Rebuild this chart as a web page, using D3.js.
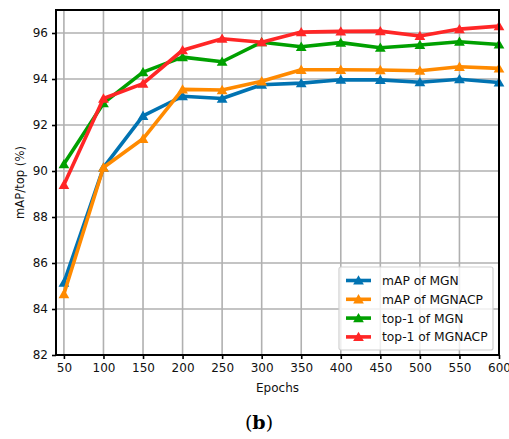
<!DOCTYPE html>
<html>
<head>
<meta charset="utf-8">
<script src="https://cdn.jsdelivr.net/npm/d3@7"></script>
<style>
  body { margin: 0; background: #fff; }
  svg text { font-family: "DejaVu Sans", sans-serif; }
</style>
</head>
<body>
<div id="chart-wrapper"></div>
<script>
// Data
const epochs = [50, 100, 150, 200, 250, 300, 350, 400, 450, 500, 550, 600]
const mapMGN    = [85.15, 90.15, 92.4, 93.25, 93.15, 93.75, 93.82, 93.97, 93.96, 93.86, 93.99, 93.85]
const mapMGNACP = [84.65, 90.15, 91.4, 93.55, 93.52, 93.9, 94.4, 94.4, 94.39, 94.36, 94.53, 94.46]
const top1MGN    = [90.3, 92.95, 94.3, 94.95, 94.75, 95.6, 95.4, 95.58, 95.36, 95.48, 95.62, 95.5]
const top1MGNACP = [89.4, 93.15, 93.8, 95.25, 95.75, 95.6, 96.04, 96.07, 96.08, 95.87, 96.17, 96.3]
const yTicks = [82, 84, 86, 88, 90, 92, 94, 96]
const xTicks = [50, 100, 150, 200, 250, 300, 350, 400, 450, 500, 550, 600]

const series = [
  {name: "mAP of MGN", values: mapMGN, color: "#0173b2"},
  {name: "mAP of MGNACP", values: mapMGNACP, color: "#ff8a00"},
  {name: "top-1 of MGN", values: top1MGN, color: "#00a000"},
  {name: "top-1 of MGNACP", values: top1MGNACP, color: "#ff2626"}
]

const width = 509
const height = 439
const margin = {top: 10, right: 10, bottom: 84, left: 56}

const svg = d3.select("#chart-wrapper")
  .append("svg")
  .attr("width", width)
  .attr("height", height)

const x = d3.scaleLinear().domain([40, 600]).range([margin.left, width - margin.right])
const y = d3.scaleLinear().domain([82, 97]).range([height - margin.bottom, margin.top])

// Grid
const grid = svg.append("g")
grid.selectAll(".vg").data(xTicks).enter().append("line")
  .attr("x1", d => x(d)).attr("x2", d => x(d))
  .attr("y1", y.range()[0]).attr("y2", y.range()[1])
  .attr("stroke", "#b0b0b0").attr("stroke-width", 1.6)
grid.selectAll(".hg").data(yTicks).enter().append("line")
  .attr("x1", x.range()[0]).attr("x2", x.range()[1])
  .attr("y1", d => y(d)).attr("y2", d => y(d))
  .attr("stroke", "#b0b0b0").attr("stroke-width", 1.6)

// Lines + markers
const line = d3.line().x((d, i) => x(epochs[i])).y(d => y(d))
const tri = d3.symbol().type(d3.symbolTriangle).size(50)
series.forEach(s => {
  svg.append("path")
    .datum(s.values)
    .attr("d", line)
    .attr("fill", "none")
    .attr("stroke", s.color)
    .attr("stroke-width", 3.6)
    .attr("stroke-linejoin", "round")
  svg.append("g").selectAll("path").data(s.values).enter().append("path")
    .attr("d", tri)
    .attr("transform", (d, i) => `translate(${x(epochs[i])},${y(d) + 1})`)
    .attr("fill", s.color)
})

// Axes
const xAxis = svg.append("g")
  .attr("transform", `translate(0,${y.range()[0]})`)
  .call(d3.axisBottom(x).tickValues(xTicks).tickSize(4).tickPadding(4).tickSizeOuter(0))
const yAxis = svg.append("g")
  .attr("transform", `translate(${x.range()[0]},0)`)
  .call(d3.axisLeft(y).tickValues(yTicks).tickSize(4).tickPadding(4).tickSizeOuter(0))
;[xAxis, yAxis].forEach(a => {
  a.select(".domain").remove()
  a.selectAll("line").attr("stroke", "#000").attr("stroke-width", 1.6)
  a.selectAll("text").attr("font-size", 12).attr("fill", "#111")
    .attr("font-family", "DejaVu Sans")
})

// Frame
svg.append("rect")
  .attr("x", x.range()[0]).attr("y", y.range()[1])
  .attr("width", x.range()[1] - x.range()[0])
  .attr("height", y.range()[0] - y.range()[1])
  .attr("fill", "none").attr("stroke", "#000").attr("stroke-width", 2)

// Axis titles
svg.append("text")
  .attr("x", (x.range()[0] + x.range()[1]) / 2).attr("y", 392)
  .attr("text-anchor", "middle").attr("font-size", 12).attr("fill", "#111")
  .text("Epochs")
svg.append("text")
  .attr("transform", `translate(24,${(y.range()[0] + y.range()[1]) / 2}) rotate(-90)`)
  .attr("text-anchor", "middle").attr("font-size", 11.6).attr("fill", "#111")
  .text("mAP/top (%)")

// Legend
const lg = svg.append("g").attr("transform", "translate(339,267)")
lg.append("rect")
  .attr("width", 154).attr("height", 83).attr("rx", 2)
  .attr("fill", "rgba(255,255,255,0.8)").attr("stroke", "#d0d0d0").attr("stroke-width", 1.2)
series.forEach((s, i) => {
  const ly = 13.5 + i * 18.8
  lg.append("line").attr("x1", 7).attr("x2", 32).attr("y1", ly).attr("y2", ly)
    .attr("stroke", s.color).attr("stroke-width", 3.6)
  lg.append("path").attr("d", tri).attr("transform", `translate(19.5,${ly + 1})`).attr("fill", s.color)
  lg.append("text").attr("x", 43).attr("y", ly + 4.5)
    .attr("font-size", 12.3).attr("fill", "#111").text(s.name)
})

// Caption
svg.append("text")
  .attr("x", 259).attr("y", 429).attr("text-anchor", "middle")
  .attr("font-family", "DejaVu Serif").attr("font-size", 19)
  .selectAll("tspan").data(["(", "b", ")"]).enter().append("tspan")
  .attr("font-weight", d => d === "b" ? "bold" : "normal")
  .style("font-family", "DejaVu Serif")
  .text(d => d)
</script>
</body>
</html>
